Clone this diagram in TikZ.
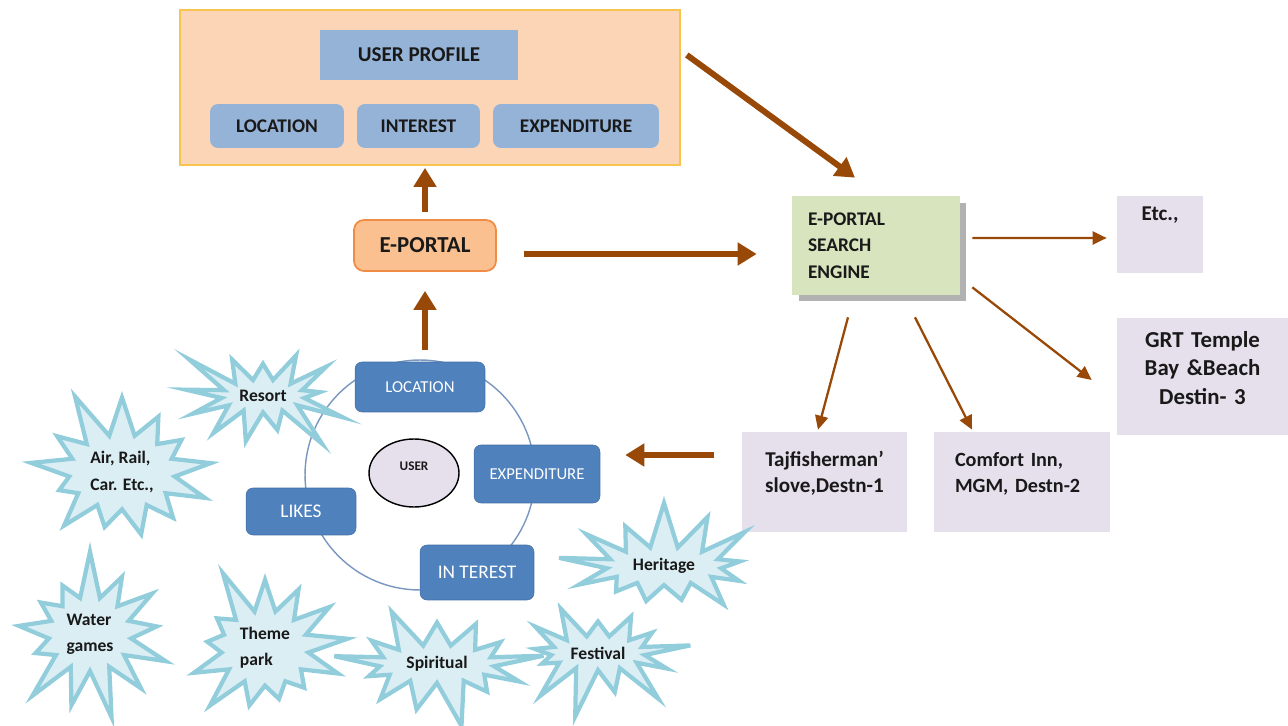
\documentclass[tikz,border=0pt]{standalone}
\usepackage{fontspec}
\setmainfont{Carlito}
\usetikzlibrary{arrows.meta,calc,shapes.geometric,shapes.symbols,shadows}
\definecolor{brownA}{RGB}{152,72,7}
\definecolor{peach}{RGB}{251,213,181}
\definecolor{gold}{RGB}{247,196,80}
\definecolor{bgray}{RGB}{149,179,215}
\definecolor{eport}{RGB}{250,192,144}
\definecolor{eportb}{RGB}{240,140,70}
\definecolor{lgreen}{RGB}{215,228,189}
\definecolor{lav}{RGB}{229,224,236}
\definecolor{blueA}{RGB}{79,129,189}
\definecolor{ringc}{RGB}{120,150,190}
\definecolor{starfill}{RGB}{219,238,244}
\definecolor{starline}{RGB}{146,205,220}
\definecolor{ink}{RGB}{25,25,25}
\tikzset{
  bigarrow/.style={draw=brownA, line width=3.4pt, -{Triangle[length=0.38cm,width=0.44cm]}},
  thinarrow/.style={draw=brownA, line width=1.3pt, -{Triangle[length=0.28cm,width=0.26cm]}},
  pbox/.style={fill=bgray, rounded corners=0.16cm, text=ink, font=\bfseries\fontsize{11}{13}\selectfont, minimum height=0.88cm},
  bbox/.style={fill=blueA, draw=blueA!85!black, line width=0.3pt, rounded corners=0.14cm, text=white, font=\fontsize{9.5}{11}\selectfont},
  lbox/.style={fill=lav, text=ink, inner ysep=0pt, font=\bfseries\fontsize{12}{15.3}\selectfont},
  burst/.style={starburst, fill=starfill, draw=starline, line width=2.4pt, text=ink, align=left,
    font=\bfseries\fontsize{10}{15}\selectfont, starburst points=13, starburst point height=1.0cm},
}
\begin{document}
\begin{tikzpicture}[x={(0.02cm,0)}, y={(0,-0.02cm)}]
\useasboundingbox (0,0) rectangle (1288,726);

% ---- user profile block
\node[draw=gold, fill=peach, line width=1pt, minimum width=10cm, minimum height=3.1cm] (profile) at (430,87.5) {};
\node[fill=bgray, text=ink, minimum width=3.96cm, minimum height=1cm, font=\bfseries\fontsize{12}{14}\selectfont] (uprof) at (419,55) {USER PROFILE};
\node[pbox, minimum width=2.68cm] (ploc) at (277,126) {LOCATION};
\node[pbox, minimum width=2.46cm] (pint) at (418.5,126) {INTEREST};
\node[pbox, minimum width=3.32cm] (pexp) at (576,126) {EXPENDITURE};

% ---- e-portal
\node[fill=eport, draw=eportb, line width=1pt, rounded corners=0.2cm, minimum width=2.84cm, minimum height=1.02cm, text=ink,
      font=\bfseries\fontsize{13}{15}\selectfont] (eportal) at (425,245.5) {E-PORTAL};

% ---- search engine
\node[fill=lgreen, drop shadow={shadow xshift=0.13cm, shadow yshift=-0.13cm, fill=black!30, opacity=1},
      minimum width=3.36cm, minimum height=1.98cm, inner xsep=0.32cm, inner ysep=0pt, text width=2.72cm, align=left, text=ink,
      font=\bfseries\fontsize{11}{15}\selectfont] (search) at (876,245.5) {E-PORTAL\\SEARCH\\ENGINE};

% ---- destination boxes
\node[lbox, minimum width=1.72cm, text height=0.48cm, text depth=1.06cm] (etc) at (1160,234.5) {Etc.,};
\node[lbox, minimum width=3.42cm, text width=3.1cm, align=center, text height=0.58cm, text depth=1.76cm,
      font=\bfseries\fontsize{13}{16.4}\selectfont] (grt) at (1202.5,376.5) {GRT Temple\\Bay \&Beach\\Destin- 3};
\node[lbox, minimum width=3.3cm, text width=3.0cm, align=center, text height=0.68cm, text depth=1.32cm] (taj) at (824.5,482) {Tajfisherman’\\slove,Destn-1};
\node[lbox, minimum width=3.52cm, inner xsep=0.42cm, text width=2.68cm, align=left, text height=0.68cm, text depth=1.32cm,
      font=\bfseries\fontsize{11.5}{15.3}\selectfont] (comfort) at (1022,482) {Comfort Inn,\\MGM, Destn-2};

% ---- user cycle
\node[circle, draw=ringc, line width=0.8pt, minimum size=4.6cm] (ring) at (420,475) {};

% ---- bursts
\node[burst, minimum width=4.0cm, minimum height=3.2cm, random starburst=11] (air) at (122,472) {Air, Rail,\\Car. Etc.,};
\node[burst, minimum width=3.5cm, minimum height=2.4cm, random starburst=3] (resort) at (263,396) {Resort};
\node[burst, minimum width=3.6cm, minimum height=3.3cm, random starburst=7] (water) at (90,634) {Water\\games};
\node[burst, minimum width=3.7cm, minimum height=3.1cm, random starburst=5] (theme) at (265,648) {Theme\\park};
\node[burst, minimum width=4.3cm, minimum height=2.1cm, random starburst=9] (spirit) at (437,664) {Spiritual};
\node[burst, minimum width=3.4cm, minimum height=2.4cm, random starburst=13] (fest) at (598,653) {Festival};
\node[burst, minimum width=4.3cm, minimum height=2.3cm, random starburst=17] (herit) at (664,566) {Heritage};

% ---- cycle boxes
\node[bbox, minimum width=2.6cm, minimum height=1.0cm] (loc2) at (420,387) {LOCATION};
\node[bbox, minimum width=2.52cm, minimum height=1.16cm] (exp2) at (537,474) {EXPENDITURE};
\node[bbox, minimum width=2.28cm, minimum height=1.1cm, font=\fontsize{11}{13}\selectfont] (int2) at (477,572.5) {IN TEREST};
\node[bbox, minimum width=2.2cm, minimum height=0.94cm, font=\fontsize{11}{13}\selectfont] (likes) at (301,511.5) {LIKES};
\node[ellipse, fill=lav, draw=black, line width=0.8pt, minimum width=1.8cm, minimum height=1.36cm, text=ink, text depth=0.28cm,
      font=\bfseries\fontsize{7.5}{9}\selectfont] (user) at (414,473) {USER};

% ---- arrows
\draw[bigarrow, shorten <=0.14cm, shorten >=0.04cm] (eportal.north) -- (eportal.north |- profile.south);
\draw[bigarrow, shorten <=0.24cm, shorten >=0.38cm] (eportal.south |- loc2.north) -- (eportal.south);
\draw[bigarrow, shorten <=0.54cm, shorten >=0.7cm] ($(eportal.east)+(0,8.5)$) -- ($(search.west |- eportal.east)+(0,8.5)$);
\draw[bigarrow] ($(profile.east)+(6,-32.5)$) -- ($(search.north)+(-21,-18)$);
\draw[thinarrow] ($(search.east)+(12,-7.5)$) -- ($(etc.west)+(-10,3.5)$);
\draw[thinarrow] ($(search.south east)+(12,-8)$) -- ($(grt.west)+(-25,3.5)$);
\draw[thinarrow] ($(search.south)+(-28,22)$) -- ($(taj.north)+(-6.5,-2)$);
\draw[thinarrow] ($(search.south)+(39,22)$) -- ($(comfort.north)+(-50,-2)$);
\draw[bigarrow] ($(taj.west)+(-28,-27)$) -- ($(exp2.east)+(25,-19)$);
\end{tikzpicture}
\end{document}
